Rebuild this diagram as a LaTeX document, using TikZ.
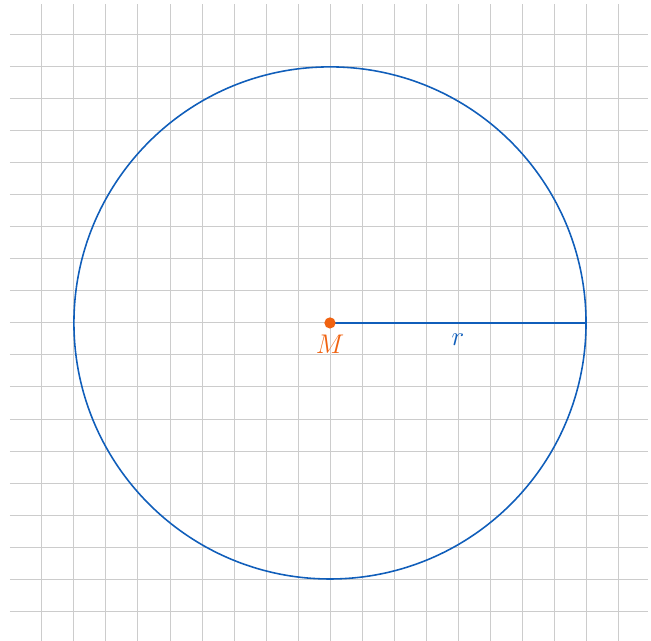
\documentclass[tikz,border=0pt]{standalone}
\usepackage{tikz}
\usetikzlibrary{positioning}
\definecolor{circblue}{RGB}{16,94,186}
\definecolor{ptorange}{RGB}{240,98,16}

\begin{document}
\begin{tikzpicture}[x=0.5cm, y=0.5cm,
        gridline/.style={draw=gray!40, line width=0.4pt},
        circleline/.style={draw=circblue, line width=0.7pt},
        pointdot/.style={circle, fill=ptorange, inner sep=0pt, minimum size=5pt},
        ptlabel/.style={font=\large}
    ]
        \useasboundingbox (-10.31,-9.91) rectangle (10.03,10.09);

        % Grid
        \foreach \k in {-9,...,9} {
            \draw[gridline] (\k,-10) -- (\k,9.95);
            \draw[gridline] (-10,\k) -- (9.95,\k);
        }

        % Circle with radius
        \coordinate (M) at (0,0);
        \coordinate (R) at (8,0);
        \draw[circleline] (M) circle (8);
        \draw[circleline] (M) -- node[ptlabel, below=1pt, text=circblue] (rlabel) {$r$} (R);

        % Centre
        \node[pointdot] (Mdot) at (M) {};
        \node[ptlabel, below=-1pt of Mdot, text=ptorange] (Mlabel) {$M$};

    \end{tikzpicture}
\end{document}
